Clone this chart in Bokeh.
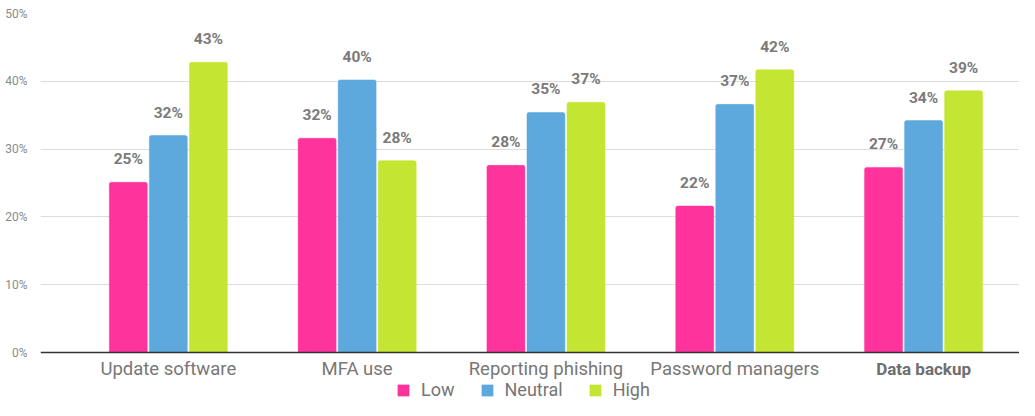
from bokeh.plotting import figure
from bokeh.models import (ColumnDataSource, Range1d, FixedTicker, Legend, LegendItem, Span)
from bokeh.transform import dodge
from bokeh.core.properties import value
from bokeh.embed import file_html
from bokeh.resources import INLINE

categories = ["Update software", "MFA use", "Reporting phishing", "Password managers", "Data backup"]
low = [25.1, 31.6, 27.6, 21.6, 27.3]
neutral = [32.0, 40.2, 35.4, 36.6, 34.2]
high = [42.8, 28.3, 36.9, 41.7, 38.6]
series_names = ["Low", "Neutral", "High"]
colors = ["#FF339C", "#5DA8DC", "#C4E531"]
y_ticks = [0, 10, 20, 30, 40, 50]

x = list(range(len(categories)))
src = ColumnDataSource(dict(
    x=x, low=low, neutral=neutral, high=high,
    low_lbl=[f"{v:.0f}%" for v in low],
    neutral_lbl=[f"{v:.0f}%" for v in neutral],
    high_lbl=[f"{v:.0f}%" for v in high],
))
cat_src = ColumnDataSource(dict(
    x=x, y=[0] * len(categories), text=categories,
    style=["normal"] * (len(categories) - 1) + ["bold"],
    size=["18.5px"] * (len(categories) - 1) + ["17px"],
    color=["#777777"] * (len(categories) - 1) + ["#6e6e6e"],
))

W, H = 1019, 400
TOP, BOTTOM0 = 13, 352           # pixel rows of 50% and 0%
px_per_unit = (BOTTOM0 - TOP) / 50.0
y_min = -(H - BOTTOM0) / px_per_unit
p = figure(width=W, height=H, output_backend="svg", toolbar_location=None,
           x_range=Range1d(-0.677, 4.508), y_range=Range1d(y_min, 50),
           min_border_left=40, min_border_right=0, min_border_top=TOP, min_border_bottom=0)
p.outline_line_color = None
p.background_fill_color = "white"
p.border_fill_color = "white"
p.xaxis.visible = False

FONT = "Roboto"
renderers = []
offsets = [-0.212, 0.0, 0.212]
keys = ["low", "neutral", "high"]
for k, off, c in zip(keys, offsets, colors):
    r = p.vbar(x=dodge("x", off), top=k, width=0.201, bottom=0, source=src,
               fill_color=c, line_color=c, line_width=0.5, border_radius=[2, 2, 0, 0])
    renderers.append(r)
    p.text(x=dodge("x", off), y=k, text=k + "_lbl", source=src,
           text_align="center", text_baseline="alphabetic", y_offset=-23,
           text_font=value(FONT), text_font_style="bold", text_font_size="15.5px",
           text_color="#7a7a7a")

# baseline
p.add_layout(Span(location=0, dimension="width", line_color="#333333", line_width=1.5))

# category labels
p.text(x="x", y="y", text="text", source=cat_src, text_align="center",
       text_baseline="middle", y_offset=16, text_font=value(FONT),
       text_font_size="size", text_font_style="style", text_color="color")

p.yaxis.ticker = FixedTicker(ticks=y_ticks)
p.yaxis.major_label_overrides = {t: f"{t}%" for t in y_ticks}
p.yaxis.axis_line_color = None
p.yaxis.major_tick_line_color = None
p.yaxis.minor_tick_line_color = None
p.yaxis.major_label_text_font = FONT
p.yaxis.major_label_text_font_size = "12px"
p.yaxis.major_label_text_color = "#8a8a8a"
p.yaxis.major_label_standoff = 7

p.xgrid.grid_line_color = None
p.ygrid.ticker = FixedTicker(ticks=y_ticks[1:])
p.ygrid.grid_line_color = "#dddddd"
p.ygrid.grid_line_width = 1

legend = Legend(items=[LegendItem(label=n, renderers=[r]) for n, r in zip(series_names, renderers)],
                orientation="horizontal", location=(356, 0),
                glyph_width=14, glyph_height=14, label_standoff=11, spacing=25,
                padding=0, margin=0, border_line_color=None, background_fill_alpha=0,
                label_text_font=FONT, label_text_font_size="18px", label_text_color="#757575")
p.add_layout(legend, "center")

open("out.html", "w").write(file_html(p, INLINE))
